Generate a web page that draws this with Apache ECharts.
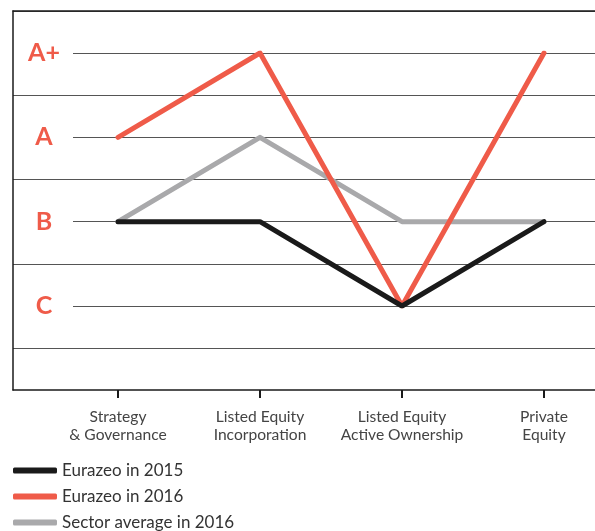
<!DOCTYPE html>
<html><head><meta charset="utf-8">
<script src="https://cdn.jsdelivr.net/npm/echarts@6/dist/echarts.min.js"></script>
<style>html,body{margin:0;padding:0;background:#fff}#c{width:595px;height:531px}</style>
</head><body><div id="c"></div>
<script>
var categories = ['Strategy\n& Governance', 'Listed Equity\nIncorporation', 'Listed Equity\nActive Ownership', 'Private\nEquity'];
var gradeLabels = {2: 'C', 4: 'B', 6: 'A', 8: 'A+'};
var eurazeo2015 = [4, 4, 2, 4];
var eurazeo2016 = [6, 8, 2, 8];
var sector2016 = [4, 6, 4, 4];

var chart = echarts.init(document.getElementById('c'), null, {renderer: 'canvas'});
var hidden = {show: false};
chart.setOption({
  animation: false,
  grid: [
    {left: 13, right: 0, top: 11, bottom: 141},
    {left: 13, right: 0, top: 11, bottom: 183},
    {left: 73, right: 0, top: 53, bottom: 225},
    {left: 118, right: 51, top: 53, bottom: 225}
  ],
  xAxis: [
    {gridIndex: 0, type: 'value', min: 0, max: 1, position: 'bottom',
     axisLine: {show: true, lineStyle: {color: '#1a1a1a', width: 1.5}}, axisTick: hidden, axisLabel: hidden, splitLine: hidden},
    {gridIndex: 0, type: 'value', min: 0, max: 1, position: 'top',
     axisLine: {show: true, lineStyle: {color: '#1a1a1a', width: 1.5}}, axisTick: hidden, axisLabel: hidden, splitLine: hidden},
    {gridIndex: 1, type: 'value', min: 0, max: 1, show: false},
    {gridIndex: 2, type: 'value', min: 0, max: 1, show: false},
    {gridIndex: 3, type: 'category', data: categories, boundaryGap: false, offset: 84,
     axisLine: hidden,
     axisTick: {show: true, length: 8, interval: 0, lineStyle: {color: '#1a1a1a', width: 2}},
     axisLabel: {interval: 0, color: '#444', fontFamily: 'Lato', fontSize: 15.6, lineHeight: 18, margin: 18},
     splitLine: hidden}
  ],
  yAxis: [
    {gridIndex: 0, type: 'value', min: 0, max: 9, interval: 1, position: 'left',
     axisLine: {show: true, lineStyle: {color: '#1a1a1a', width: 1.5}}, axisTick: hidden, axisLabel: hidden, splitLine: hidden},
    {gridIndex: 1, type: 'value', min: 1, max: 9, interval: 2,
     axisLine: hidden, axisTick: hidden, axisLabel: hidden,
     splitLine: {show: true, lineStyle: {color: '#555', width: 1.2}}},
    {gridIndex: 2, type: 'value', min: 2, max: 8, interval: 2,
     axisLine: hidden, axisTick: hidden,
     axisLabel: {color: '#ef5b49', fontFamily: 'Lato', fontWeight: 'bold', fontSize: 25, align: 'center', margin: 29,
       formatter: function (v) { return gradeLabels[v] || ''; }},
     splitLine: {show: true, lineStyle: {color: '#555', width: 1.2}}},
    {gridIndex: 3, type: 'value', min: 2, max: 8, interval: 2, show: false}
  ],
  legend: {
    orient: 'vertical', left: 13, top: 462, itemGap: 9, padding: 0,
    itemWidth: 44, itemHeight: 6, icon: 'roundRect',
    textStyle: {color: '#333', fontFamily: 'Lato', fontSize: 17},
    data: ['Eurazeo in 2015', 'Eurazeo in 2016', 'Sector average in 2016']
  },
  series: [
    {name: 'Sector average in 2016', type: 'line', xAxisIndex: 4, yAxisIndex: 3, data: sector2016,
     symbol: 'none', lineStyle: {color: '#a9a9ab', width: 5, cap: 'round', join: 'round'}, itemStyle: {color: '#a9a9ab'}},
    {name: 'Eurazeo in 2016', type: 'line', xAxisIndex: 4, yAxisIndex: 3, data: eurazeo2016,
     symbol: 'none', lineStyle: {color: '#ef5b49', width: 5, cap: 'round', join: 'round'}, itemStyle: {color: '#ef5b49'}},
    {name: 'Eurazeo in 2015', type: 'line', xAxisIndex: 4, yAxisIndex: 3, data: eurazeo2015,
     symbol: 'none', lineStyle: {color: '#1a1a1a', width: 5, cap: 'round', join: 'round'}, itemStyle: {color: '#1a1a1a'}}
  ]
});
</script></body></html>
